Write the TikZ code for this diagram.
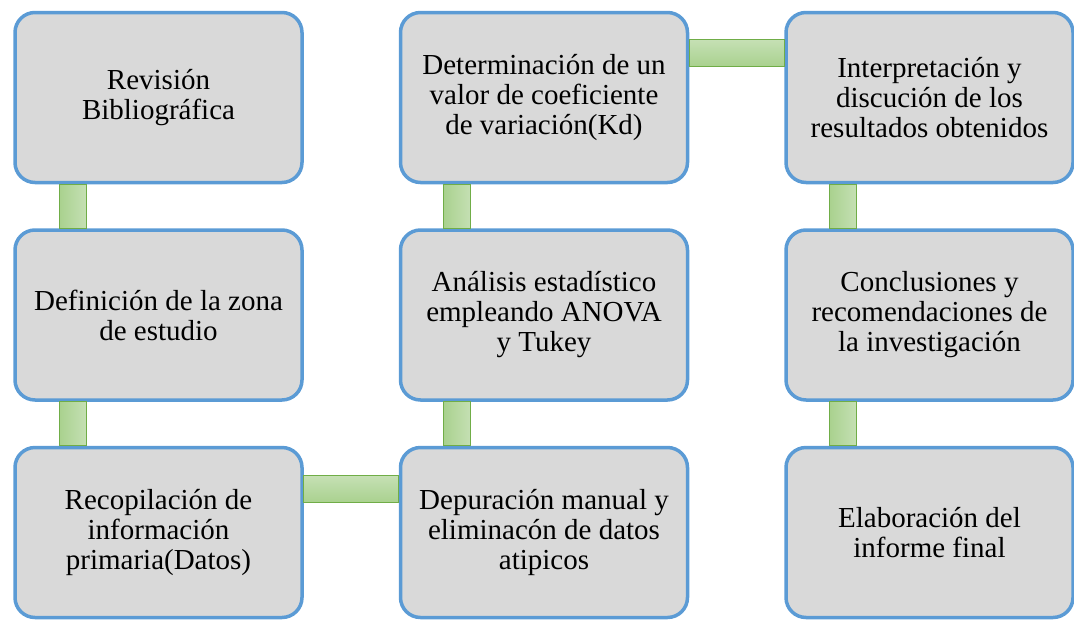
\documentclass[tikz,border=0pt]{standalone}
\usepackage{fontspec}
\setmainfont{Liberation Serif}
\usepackage{tikz}
\usetikzlibrary{positioning,calc}
\definecolor{etapaborde}{RGB}{91,155,213}
\definecolor{etapafondo}{RGB}{217,217,217}
\definecolor{enlaceborde}{RGB}{112,173,71}
\definecolor{enlaceoscuro}{RGB}{169,209,142}
\definecolor{enlaceclaro}{RGB}{197,224,180}
\tikzstyle{etapa} = [rectangle, rounded corners=20pt, minimum width=287pt, minimum height=170pt, text centered, align=center, inner sep=0pt, draw=etapaborde, fill=etapafondo, line width=3.5pt, font=\fontsize{29}{30}\selectfont]
\tikzstyle{enlacev} = [draw=enlaceborde, line width=0.8pt, left color=enlaceoscuro, right color=enlaceclaro]
\tikzstyle{enlaceh} = [draw=enlaceborde, line width=0.8pt, top color=enlaceclaro, bottom color=enlaceoscuro]

\begin{document}
\begin{tikzpicture}
\useasboundingbox (0,0) rectangle (1074pt,-619pt);

% Column 1
\node (rev) [etapa] at (158.5pt,-97.5pt) {Revisión\\Bibliográfica};
\node (def) [etapa, below=44pt of rev] {Definición de la zona\\de estudio};
\node (rec) [etapa, below=44pt of def] {Recopilación de\\información\\primaria(Datos)};

% Column 2
\node (dep) [etapa, right=95pt of rec] {Depuración manual y\\eliminacón de datos\\atipicos};
\node (ana) [etapa, above=44pt of dep] {Análisis estadístico\\empleando ANOVA\\y Tukey};
\node (det) [etapa, above=44pt of ana] {Determinación de un\\valor de coeficiente\\de variación(Kd)};

% Column 3
\node (int) [etapa, right=95pt of det] {Interpretación y\\discución de los\\resultados obtenidos};
\node (con) [etapa, below=44pt of int] {Conclusiones y\\recomendaciones de\\la investigación};
\node (ela) [etapa, below=44pt of con] {Elaboración del\\informe final};

% Bars
\draw[enlacev] ($(rev.south west)+(46pt,0)$) rectangle ($(def.north west)+(73pt,0)$);
\draw[enlacev] ($(def.south west)+(46pt,0)$) rectangle ($(rec.north west)+(73pt,0)$);
\draw[enlaceh] ($(rec.north east)+(0,-30pt)$) rectangle ($(dep.north west)+(0,-57pt)$);
\draw[enlacev] ($(ana.south west)+(45pt,0)$) rectangle ($(dep.north west)+(72pt,0)$);
\draw[enlacev] ($(det.south west)+(45pt,0)$) rectangle ($(ana.north west)+(72pt,0)$);
\draw[enlaceh] ($(det.north east)+(0,-29pt)$) rectangle ($(int.north west)+(0,-56pt)$);
\draw[enlacev] ($(int.south west)+(45pt,0)$) rectangle ($(con.north west)+(72pt,0)$);
\draw[enlacev] ($(con.south west)+(45pt,0)$) rectangle ($(ela.north west)+(72pt,0)$);
\end{tikzpicture}
\end{document}
